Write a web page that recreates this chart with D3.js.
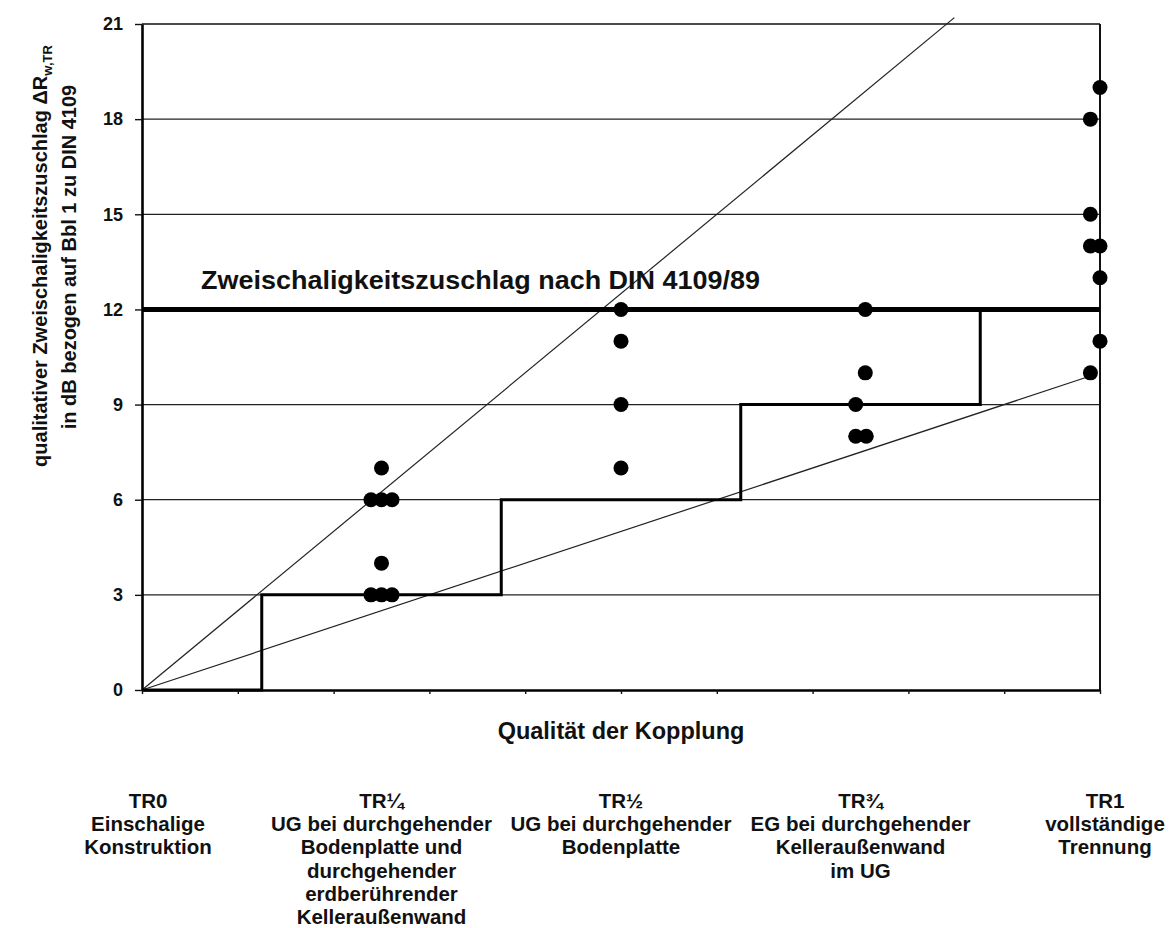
<!DOCTYPE html>
<html><head><meta charset="utf-8">
<script src="https://cdn.jsdelivr.net/npm/d3@7"></script>
<style>
html,body{margin:0;padding:0;background:#fff;}
text{font-family:"Liberation Sans",Arial,sans-serif;font-weight:bold;fill:#111;}
</style></head>
<body>
<svg id="chart" width="1174" height="928"></svg>
<script>
// ---- data ----
const yTicks = [0, 3, 6, 9, 12, 15, 18, 21];
const xMinorTicks = [0, 0.1, 0.2, 0.3, 0.4, 0.5, 0.6, 0.7, 0.8, 0.9, 1.0];
const categoryNames = ["TR0", "TR¼", "TR½", "TR¾", "TR1"];
const categoryPos = [0, 0.25, 0.5, 0.75, 1];
const categoryDesc = [
  ["Einschalige", "Konstruktion"],
  ["UG bei durchgehender", "Bodenplatte und", "durchgehender", "erdberührender", "Kelleraußenwand"],
  ["UG bei durchgehender", "Bodenplatte"],
  ["EG bei durchgehender", "Kelleraußenwand", "im UG"],
  ["vollständige", "Trennung"]
];
const stepX = [0, 0.125, 0.125, 0.375, 0.375, 0.625, 0.625, 0.875, 0.875, 1];
const stepY = [0, 0, 3, 3, 6, 6, 9, 9, 12, 12];
const dinValue = 12;
const dinLabel = "Zweischaligkeitszuschlag nach DIN 4109/89";
const steepX = [0, 0.848];
const steepY = [0, 21.2];
const shallowX = [0, 0.99];
const shallowY = [0, 9.9];
const dotX = [0.25, 0.239, 0.25, 0.261, 0.25, 0.239, 0.25, 0.261,
              0.5, 0.5, 0.5, 0.5,
              0.755, 0.755, 0.745, 0.745, 0.756,
              1.0, 0.99, 0.99, 0.99, 1.0, 1.0, 1.0, 0.99];
const dotY = [7, 6, 6, 6, 4, 3, 3, 3,
              12, 11, 9, 7,
              12, 10, 9, 8, 8,
              19, 18, 15, 14, 14, 13, 11, 10];
const xTitle = "Qualität der Kopplung";
const yTitle1 = "qualitativer Zweischaligkeitszuschlag ΔR";
const yTitle1Sub = "w,TR";
const yTitle2 = "in dB bezogen auf Bbl 1 zu DIN 4109";

// ---- chart ----
const svg = d3.select("#chart");
const x = d3.scaleLinear().domain([0, 1]).range([142, 1100]);
const y = d3.scaleLinear().domain([0, 21]).range([690, 24]);

// grid lines
svg.append("g").selectAll("line")
  .data(yTicks.filter(v => v > 0 && v < 21))
  .join("line")
  .attr("x1", x(0)).attr("x2", x(1))
  .attr("y1", d => y(d)).attr("y2", d => y(d))
  .attr("stroke", "#222").attr("stroke-width", 1.2);

// top and right border
svg.append("line").attr("x1", x(0)).attr("x2", x(1)).attr("y1", y(21)).attr("y2", y(21))
  .attr("stroke", "#111").attr("stroke-width", 1.6);
svg.append("line").attr("x1", x(1)).attr("x2", x(1)).attr("y1", y(21)).attr("y2", y(0))
  .attr("stroke", "#111").attr("stroke-width", 2);

// diagonal lines
const line = d3.line().x(d => x(d[0])).y(d => y(d[1]));
svg.append("path").attr("d", line(d3.zip(steepX, steepY)))
  .attr("fill", "none").attr("stroke", "#222").attr("stroke-width", 1.2);
svg.append("path").attr("d", line(d3.zip(shallowX, shallowY)))
  .attr("fill", "none").attr("stroke", "#222").attr("stroke-width", 1.2);

// DIN line
svg.append("line").attr("x1", x(0)).attr("x2", x(1)).attr("y1", y(dinValue)).attr("y2", y(dinValue))
  .attr("stroke", "#000").attr("stroke-width", 5);

// step line
svg.append("path").attr("d", line(d3.zip(stepX, stepY)))
  .attr("fill", "none").attr("stroke", "#000").attr("stroke-width", 3);

// axes
const yAxis = svg.append("g").attr("transform", `translate(${x(0)},0)`)
  .call(d3.axisLeft(y).tickValues(yTicks).tickSize(7).tickSizeOuter(0).tickPadding(12));
yAxis.select(".domain").attr("stroke", "#000").attr("stroke-width", 2.6);
yAxis.selectAll(".tick line").attr("stroke", "#111").attr("stroke-width", 1.4);
yAxis.selectAll(".tick text").style("font-size", "18px").style("font-family", "'Liberation Sans',Arial,sans-serif").style("font-weight", "bold").attr("fill", "#111");

const xAxis = svg.append("g").attr("transform", `translate(0,${y(0)})`)
  .call(d3.axisBottom(x).tickValues(xMinorTicks).tickSize(4).tickSizeOuter(0).tickFormat(""));
xAxis.select(".domain").attr("stroke", "#000").attr("stroke-width", 2.6);
xAxis.selectAll(".tick line").attr("stroke", "#111").attr("stroke-width", 1.4);

// dots
svg.append("g").selectAll("circle")
  .data(d3.zip(dotX, dotY))
  .join("circle")
  .attr("cx", d => x(d[0])).attr("cy", d => y(d[1]))
  .attr("r", 7.5).attr("fill", "#000");

// DIN label
svg.append("text").attr("x", 201).attr("y", 289)
  .attr("textLength", 559).attr("lengthAdjust", "spacingAndGlyphs")
  .style("font-size", "25px").text(dinLabel);

// x title
svg.append("text").attr("x", x(0.5)).attr("y", 739).attr("text-anchor", "middle")
  .style("font-size", "23.5px").text(xTitle);

// y title
const yt = svg.append("text").attr("transform", "translate(47,256) rotate(-90)")
  .attr("text-anchor", "middle").style("font-size", "20px");
yt.append("tspan").text(yTitle1);
yt.append("tspan").attr("dy", 5).style("font-size", "13px").text(yTitle1Sub);
svg.append("text").attr("transform", "translate(76,257) rotate(-90)")
  .attr("text-anchor", "middle").style("font-size", "20px").text(yTitle2);

// category labels
const cat = svg.append("g").selectAll("text")
  .data(categoryNames.map((n, i) => ({ name: n, pos: categoryPos[i], desc: categoryDesc[i] })))
  .join("text")
  .attr("text-anchor", "middle")
  .style("font-size", "20.5px");
cat.each(function (d) {
  const t = d3.select(this);
  const lines = [d.name].concat(d.desc);
  const cx = x(d.pos) + (d.pos === 0 ? 6 : d.pos === 1 ? 5 : 0);
  lines.forEach((l, i) => {
    t.append("tspan").attr("x", cx).attr("y", 808 + i * 23.2).text(l);
  });
});
</script>
</body></html>
